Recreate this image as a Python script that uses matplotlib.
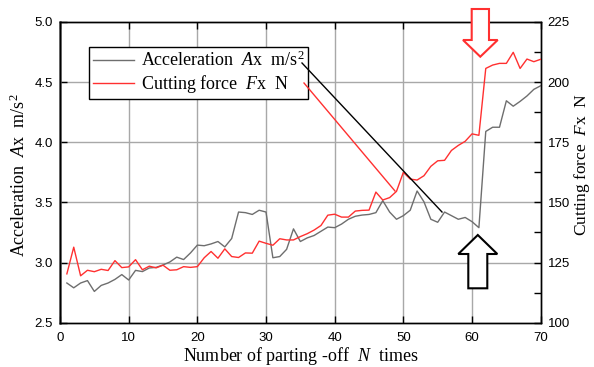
import matplotlib
matplotlib.use("Agg")
import matplotlib.pyplot as plt
from matplotlib.patches import Polygon
from matplotlib.lines import Line2D
import numpy as np

# ---------------- data ----------------
n_times = list(range(1, 71))
accel_ax = [2.83, 2.79, 2.83, 2.85, 2.76, 2.81, 2.83, 2.86, 2.90, 2.855,
            2.935, 2.925, 2.955, 2.96, 2.98, 3.005, 3.045, 3.025, 3.08, 3.145,
            3.14, 3.155, 3.175, 3.13, 3.20, 3.42, 3.415, 3.40, 3.435, 3.42,
            3.04, 3.05, 3.11, 3.28, 3.175, 3.205, 3.225, 3.26, 3.295, 3.29,
            3.32, 3.36, 3.385, 3.395, 3.40, 3.415, 3.515, 3.42, 3.36, 3.39,
            3.435, 3.595, 3.505, 3.36, 3.335, 3.42, 3.39, 3.36, 3.375, 3.34,
            3.29, 4.09, 4.125, 4.125, 4.345, 4.30, 4.34, 4.385, 4.44, 4.47]
force_fx = [120.3, 131.4, 119.5, 121.8, 121.2, 122.2, 121.7, 125.8, 122.9, 123.2,
            126.2, 122.0, 123.5, 122.8, 123.9, 121.8, 122.0, 123.3, 123.0, 123.3,
            127.0, 129.6, 126.8, 130.7, 127.5, 127.1, 129.0, 128.9, 133.9, 133.0,
            132.2, 134.9, 134.4, 134.4, 135.8, 137.0, 138.5, 140.4, 144.7, 145.1,
            143.9, 143.9, 146.4, 146.7, 146.8, 154.3, 151.0, 152.0, 154.6, 162.5,
            159.7, 159.3, 161.1, 165.0, 167.3, 167.5, 171.6, 173.7, 175.4, 178.5,
            177.9, 205.7, 207.1, 207.8, 207.8, 212.4, 205.7, 209.6, 208.5, 209.5]

x_ticks = [0, 10, 20, 30, 40, 50, 60, 70]
left_ticks = [2.5, 3.0, 3.5, 4.0, 4.5, 5.0]
right_ticks = [100, 125, 150, 175, 200, 225]

label_acc = "Acceleration  $A$x  m/s$^2$"
label_force = "Cutting force  $F$x  N"
xlabel = "Number of parting -off  $N$  times"

# ---------------- style ----------------
plt.rcParams['mathtext.fontset'] = 'custom'
plt.rcParams['mathtext.rm'] = 'Liberation Serif'
plt.rcParams['mathtext.it'] = 'Liberation Serif:italic'
serif = 'Liberation Serif'
sans = 'Liberation Sans'
gray_c = '#6e6e6e'
red_c = '#ff3030'
grid_c = '#a8a8a8'

W, H = 594, 367
fig = plt.figure(figsize=(W / 100, H / 100), dpi=100)
L, R, T, B = 60, 540.7, 22, 322.7
ax = fig.add_axes([L / W, (H - B) / H, (R - L) / W, (B - T) / H])
ax2 = ax.twinx()

ax.plot(n_times, accel_ax, color=gray_c, lw=1.0, zorder=3)
ax2.plot(n_times, force_fx, color=red_c, lw=1.0, zorder=3)

ax.set_xlim(0, 70)
ax.set_ylim(2.5, 5.0)
ax2.set_ylim(100, 225)
ax.set_xticks(x_ticks)
ax.set_yticks(left_ticks)
ax2.set_yticks(right_ticks)
ax2.set_yticks(np.arange(112.5, 225, 25), minor=True)

ax.set_xticklabels([str(v) for v in x_ticks], fontfamily=sans, fontsize=9.5)
ax.set_yticklabels([f"{v:.1f}" for v in left_ticks], fontfamily=sans, fontsize=9.5)
ax2.set_yticklabels([str(v) for v in right_ticks], fontfamily=sans, fontsize=9.5)

ax.tick_params(axis='x', direction='in', top=True, length=5, width=1, pad=7)
ax.tick_params(axis='y', direction='in', length=5, width=1, pad=5)
ax2.tick_params(axis='y', which='both', direction='in', length=5, width=1, pad=5)

# grid
for xv in x_ticks[1:-1]:
    ax.axvline(xv, color=grid_c, lw=1.0, zorder=1)
for yv in left_ticks[1:-1]:
    ax.axhline(yv, color=grid_c, lw=1.0, zorder=1)

for sp in ax.spines.values():
    sp.set_linewidth(1.0)
for sp in ax2.spines.values():
    sp.set_linewidth(1.0)
ax.spines['left'].set_linewidth(1.8)
ax.spines['left'].set_color('#555555')

# labels
fig.text(300.5 / W, 6 / H, xlabel, ha='center', va='baseline',
         fontfamily=serif, fontsize=13)
fig.text(19 / W, 1 - 175 / H, label_acc, ha='center', va='center',
         rotation=90, fontfamily=serif, fontsize=13)
fig.text(582 / W, 1 - 164 / H, label_force, ha='center', va='center',
         rotation=90, fontfamily=serif, fontsize=12.5)

# legend
handles = [Line2D([], [], color=gray_c, lw=1.0), Line2D([], [], color=red_c, lw=1.0)]
leg = ax2.legend(handles, [label_acc, label_force], loc='upper left',
                 bbox_to_anchor=((89.3 - L) / (R - L), (B - 47.3) / (B - T)),
                 borderaxespad=0, fancybox=False, framealpha=1,
                 edgecolor='black', prop={'family': serif, 'size': 13},
                 handlelength=2.3, handletextpad=0.35, labelspacing=0.15,
                 borderpad=0.2)
leg.get_frame().set_linewidth(1.0)
leg.set_zorder(5)

# annotation leader lines (axes fraction)
def px2ax(px, py):
    return ((px - L) / (R - L), (B - py) / (B - T))

ax2.add_line(Line2D(*zip(px2ax(302, 63), px2ax(442, 212)), transform=ax2.transAxes,
                    color='black', lw=1.0, zorder=6))
ax2.add_line(Line2D(*zip(px2ax(304, 83), px2ax(395, 191)), transform=ax2.transAxes,
                    color=red_c, lw=1.0, zorder=6))

# block arrows (figure pixels)
def fig_pts(pts):
    return [(x / W, 1 - y / H) for x, y in pts]

down_arrow = [(471.7, 9), (489, 9), (489, 40), (497.7, 40), (480.3, 56.7),
              (463, 40), (471.7, 40)]
up_arrow = [(477.8, 235), (497.3, 254), (487.3, 254), (487.3, 288.3),
            (468.3, 288.3), (468.3, 254), (458.3, 254)]
fig.add_artist(Polygon(fig_pts(down_arrow), closed=True, transform=fig.transFigure,
                       facecolor='white', edgecolor=red_c, lw=1.5, zorder=10))
fig.add_artist(Polygon(fig_pts(up_arrow), closed=True, transform=fig.transFigure,
                       facecolor='white', edgecolor='black', lw=1.5, zorder=10))

fig.savefig("out.png", dpi=100)
